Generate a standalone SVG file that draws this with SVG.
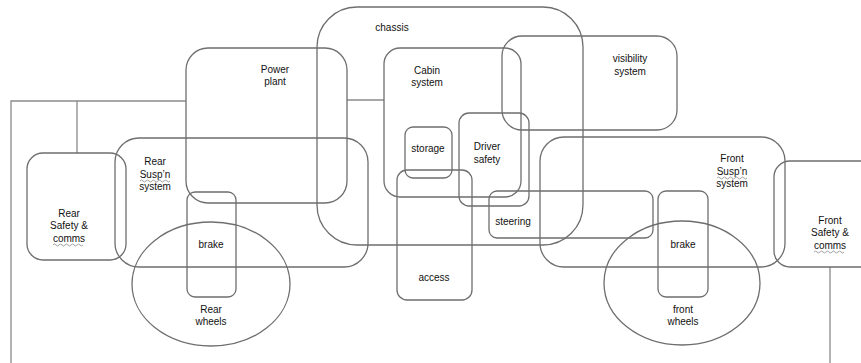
<svg xmlns="http://www.w3.org/2000/svg" width="861" height="363" viewBox="0 0 861 363">
  <style>
    .box { fill: none; stroke: #6e6e6e; stroke-width: 1.3; }
    .link { fill: none; stroke: #8a8a8a; stroke-width: 1.3; }
    .squig { fill: none; stroke: #8a8a8a; stroke-width: 0.8; }
    text { font-family: "Liberation Sans", Arial, sans-serif; font-size: 10px; fill: #111; text-anchor: middle; }
  </style>
  <rect width="861" height="363" fill="#ffffff"/>

  <g id="connectors">
    <polyline class="link" points="11,363 11,101 186,101"/>
    <line class="link" x1="77" y1="101" x2="77" y2="153"/>
    <line class="link" x1="347" y1="100" x2="384" y2="100"/>
    <line class="link" x1="830" y1="267" x2="830" y2="363"/>
  </g>

  <g id="rear-safety">
    <rect class="box" x="27" y="153" width="99" height="107" rx="16"/>
    <text x="69" y="217">Rear</text>
    <text x="69" y="229">Safety &amp;</text>
    <text x="69" y="242">comms</text>
    <path class="squig" d="M53,245 q1.5,-2 3,0 t3,0 t3,0 t3,0 t3,0 t3,0 t3,0 t3,0 t3,0 t3,0"/>
  </g>

  <g id="rear-suspension">
    <rect class="box" x="115" y="138" width="253" height="129" rx="24"/>
    <text x="155" y="165">Rear</text>
    <text x="155" y="178">Susp’n</text>
    <text x="155" y="190">system</text>
    <path class="squig" d="M140,181 q1.5,-2 3,0 t3,0 t3,0 t3,0 t3,0 t3,0 t3,0 t3,0 t3,0 t3,0"/>
  </g>

  <g id="power-plant">
    <rect class="box" x="186" y="48" width="161" height="155" rx="22"/>
    <text x="275" y="73">Power</text>
    <text x="275" y="85">plant</text>
  </g>

  <g id="rear-brake">
    <rect class="box" x="187" y="192" width="49" height="105" rx="8"/>
    <text x="211" y="248">brake</text>
  </g>

  <g id="rear-wheels">
    <ellipse class="box" cx="211" cy="284" rx="79" ry="62"/>
    <text x="211" y="313">Rear</text>
    <text x="211" y="325">wheels</text>
  </g>

  <g id="chassis">
    <rect class="box" x="317" y="7" width="266" height="238" rx="40"/>
    <text x="392" y="31">chassis</text>
  </g>

  <g id="cabin-system">
    <rect class="box" x="384" y="48" width="137" height="149" rx="16"/>
    <text x="427" y="74">Cabin</text>
    <text x="427" y="86">system</text>
  </g>

  <g id="storage">
    <rect class="box" x="405" y="127" width="47" height="51" rx="8"/>
    <text x="428" y="152">storage</text>
  </g>

  <g id="driver-safety">
    <rect class="box" x="459" y="113" width="70" height="93" rx="10"/>
    <text x="487" y="150">Driver</text>
    <text x="487" y="163">safety</text>
  </g>

  <g id="access">
    <rect class="box" x="397" y="170" width="75" height="130" rx="10"/>
    <text x="434" y="281">access</text>
  </g>

  <g id="steering">
    <rect class="box" x="489" y="191" width="164" height="47" rx="8"/>
    <text x="513" y="225">steering</text>
  </g>

  <g id="visibility-system">
    <rect class="box" x="502" y="36" width="175" height="94" rx="20"/>
    <text x="630" y="62">visibility</text>
    <text x="630" y="75">system</text>
  </g>

  <g id="front-suspension">
    <rect class="box" x="540" y="137" width="245" height="130" rx="24"/>
    <text x="732" y="162">Front</text>
    <text x="732" y="175">Susp’n</text>
    <text x="732" y="187">system</text>
    <path class="squig" d="M717,178 q1.5,-2 3,0 t3,0 t3,0 t3,0 t3,0 t3,0 t3,0 t3,0 t3,0 t3,0"/>
  </g>

  <g id="front-brake">
    <rect class="box" x="658" y="191" width="50" height="106" rx="8"/>
    <text x="683" y="248">brake</text>
  </g>

  <g id="front-wheels">
    <ellipse class="box" cx="682" cy="283" rx="78" ry="62"/>
    <text x="683" y="313">front</text>
    <text x="683" y="325">wheels</text>
  </g>

  <g id="front-safety">
    <rect class="box" x="774" y="161" width="110" height="106" rx="16"/>
    <text x="830" y="224">Front</text>
    <text x="830" y="236">Safety &amp;</text>
    <text x="830" y="249">comms</text>
    <path class="squig" d="M814,252 q1.5,-2 3,0 t3,0 t3,0 t3,0 t3,0 t3,0 t3,0 t3,0 t3,0 t3,0"/>
  </g>
</svg>
